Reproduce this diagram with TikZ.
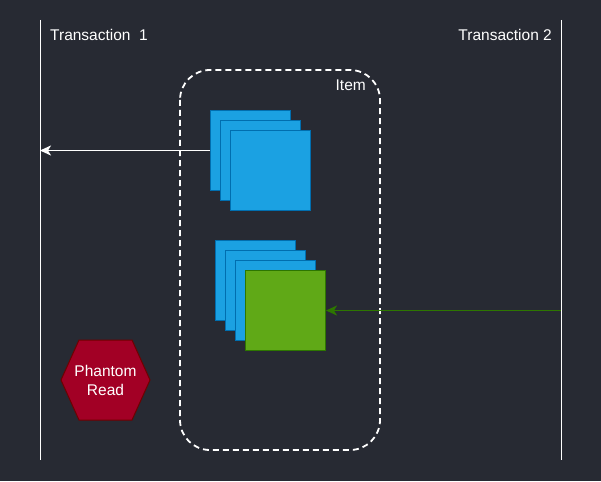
\documentclass[tikz,border=0pt]{standalone}
\usepackage{fontspec}
\setmainfont{Liberation Sans}
\usetikzlibrary{arrows.meta}

\definecolor{bgdark}{HTML}{272A33}
\definecolor{rowblue}{HTML}{1BA1E2}
\definecolor{rowblueline}{HTML}{006EAF}
\definecolor{rowgreen}{HTML}{60A917}
\definecolor{rowgreenline}{HTML}{2D7600}
\definecolor{phantomred}{HTML}{A20025}
\definecolor{phantomline}{HTML}{6F0000}

\tikzset{
  row/.style={draw=rowblueline, fill=rowblue, line width=1pt, minimum size=80pt, inner sep=0pt, anchor=north west},
  newrow/.style={row, draw=rowgreenline, fill=rowgreen},
  label/.style={text=white, font=\fontsize{15.5}{19}\selectfont, inner sep=0pt},
  readarrow/.style={line width=1.8pt, -{Stealth[length=11pt, width=10pt, inset=3pt]}}
}

\begin{document}
\begin{tikzpicture}[x=1pt, y=-1pt]
	\fill [bgdark] (0,0) rectangle (601,481);
	\useasboundingbox (0,0) rectangle (601,481);

	% transactions
	\coordinate (t1top) at (40,20);
	\coordinate (t1bot) at (40,460);
	\coordinate (t2top) at (561,20);
	\coordinate (t2bot) at (561,460);
	\draw [white, line width=1pt] (t1top) -- (t1bot);
	\draw [white, line width=1pt] (t2top) -- (t2bot);
	\node [label, anchor=base west] (txn1) at (50,40.5) {Transaction\ \ 1};
	\node [label, anchor=base east] (txn2) at (552,40.5) {Transaction 2};

	% item
	\draw [white, line width=1.8pt, dash pattern=on 6pt off 4pt, rounded corners=30pt] (180,70) rectangle (380,450);
	\node [label, anchor=base east] (item) at (366,91) {Item};

	% rows read first
	\node [row] (q1a) at (210,110) {};
	\node [row] (q1b) at (220,120) {};
	\node [row] (q1c) at (230,130) {};

	% rows read again
	\node [row] (q2a) at (215,240) {};
	\node [row] (q2b) at (225,250) {};
	\node [row] (q2c) at (235,260) {};
	\node [newrow] (q2new) at (245,270) {};

	\draw [white, readarrow] (q1a.west) -- (t1top |- q1a.west);
	\draw [rowgreenline, readarrow] (t2top |- q2new.east) -- (q2new.east);

	% phantom read
	\draw [fill=phantomred, draw=phantomline, line width=1pt] (79,340) -- (132,340) -- (150,380) -- (132,420) -- (79,420) -- (61,380) -- cycle;
	\node [label, align=center] (phantom) at (105.5,380) {Phantom\\Read};
\end{tikzpicture}
\end{document}
